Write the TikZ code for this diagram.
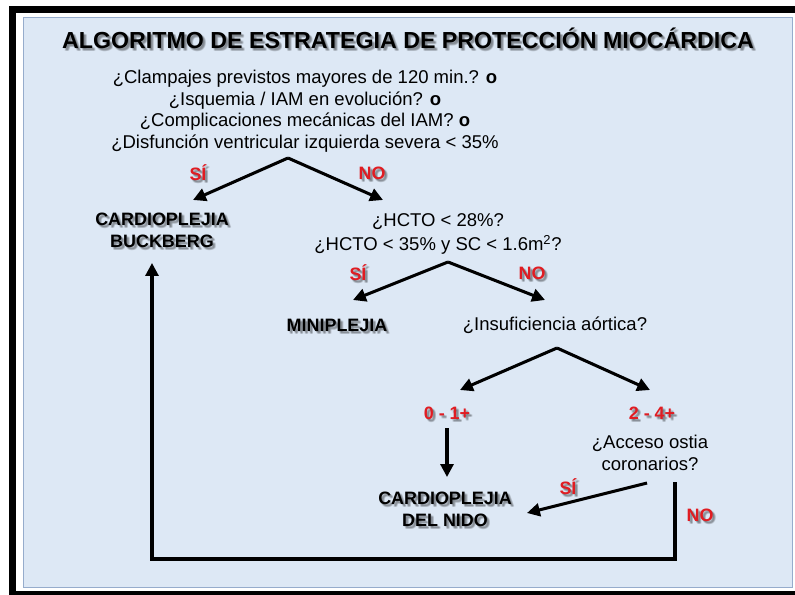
\documentclass[tikz,border=0pt]{standalone}
\usepackage{fontspec}
\setmainfont{Liberation Sans}
\usetikzlibrary{arrows.meta,positioning}
\definecolor{panelblue}{RGB}{221,232,245}
\definecolor{panelline}{RGB}{150,172,204}
\definecolor{answerred}{RGB}{224,28,34}

% a node with a soft grey shadow behind it
\newcommand{\shadownode}[4]{%
  \foreach \dx/\dy in {1/1,2/2,3/3,2/3,3/2}
    \node[#1,text=black,text opacity=0.11,shift={(\dx,\dy)}] at (#3) {#4};
  \node[#1] (#2) at (#3) {#4};}

\begin{document}
\begin{tikzpicture}[x=0.03cm,y=-0.03cm,
  question/.style={font=\fontsize{15.8}{18.4}\selectfont,align=center,inner sep=0pt},
  result/.style={font=\fontsize{15.3}{18.6}\selectfont\bfseries,align=center,inner sep=0pt},
  answer/.style={result,text=answerred},
  title/.style={font=\fontsize{19.8}{22}\selectfont\bfseries,inner sep=0pt},
  flow/.style={line width=2.6pt,-{Triangle[length=11pt,width=11pt]}}]
  \useasboundingbox (0,0) rectangle (795,594);
  % Frame and light blue panel
  \draw[line width=5.5pt] (12.5,9.5) rectangle (812,594);
  \draw[panelline,fill=panelblue,line width=0.8pt] (23,17) rectangle (792,587);
  % Title
  \shadownode{title}{head}{408,38}{ALGORITMO DE ESTRATEGIA DE PROTECCIÓN MIOCÁRDICA}
  % First question and its two answers
  \node[question] (quest) at (305,111)
    {¿Clampajes previstos mayores de 120 min.? \textbf{o}\\
     ¿Isquemia / IAM en evolución? \textbf{o}\\
     ¿Complicaciones mecánicas del IAM? \textbf{o}\\
     ¿Disfunción ventricular izquierda severa < 35\%};
  \coordinate (fork1) at (288,158);
  \coordinate (buckin) at (193,200);
  \coordinate (hctoin) at (383,200);
  \shadownode{answer}{yes1}{198,173}{SÍ}
  \shadownode{answer}{no1}{372,173}{NO}
  \shadownode{result}{buck}{162,230}{CARDIOPLEJIA\\BUCKBERG}
  % Haematocrit question
  \node[question] (hcto) at (438,234)
    {¿HCTO < 28\%?\\[2pt] ¿HCTO < 35\% y SC < 1.6m\textsuperscript{2}?};
  \coordinate (fork2) at (448,262);
  \coordinate (miniin) at (353,300);
  \coordinate (insufin) at (545,300);
  \shadownode{answer}{yes2}{358,273}{SÍ}
  \shadownode{answer}{no2}{532,273}{NO}
  \shadownode{result}{mini}{337,325}{MINIPLEJIA}
  % Aortic insufficiency
  \node[question] (insuf) at (555,325) {¿Insuficiencia aórtica?};
  \coordinate (fork3) at (557,348);
  \coordinate (lowin) at (460,390);
  \coordinate (highin) at (650,390);
  \shadownode{answer}{low}{447,413}{0 - 1+}
  \shadownode{answer}{high}{652,413}{2 - 4+}
  \node[question] (ostia) at (650,453) {¿Acceso ostia\\ coronarios?};
  \shadownode{result}{nido}{445,509}{CARDIOPLEJIA\\DEL NIDO}
  \shadownode{answer}{yes3}{568,487}{SÍ}
  \shadownode{answer}{no3}{700,515}{NO}
  \coordinate (lowout) at (447,428);
  \coordinate (nidoin) at (447,477);
  \coordinate (ostiaout) at (647,483);
  \coordinate (nidoside) at (527,513);
  \coordinate (loopstart) at (675,482);
  \coordinate (loopcorner) at (152,559);
  \coordinate (buckup) at (152,263);
  % Connectors
  \draw[flow] (fork1) -- (buckin);
  \draw[flow] (fork1) -- (hctoin);
  \draw[flow] (fork2) -- (miniin);
  \draw[flow] (fork2) -- (insufin);
  \draw[flow] (fork3) -- (lowin);
  \draw[flow] (fork3) -- (highin);
  \draw[flow] (lowout) -- (nidoin);
  \draw[flow] (ostiaout) -- (nidoside);
  \draw[flow] (loopstart) |- (loopcorner) -- (buckup);
\end{tikzpicture}
\end{document}
